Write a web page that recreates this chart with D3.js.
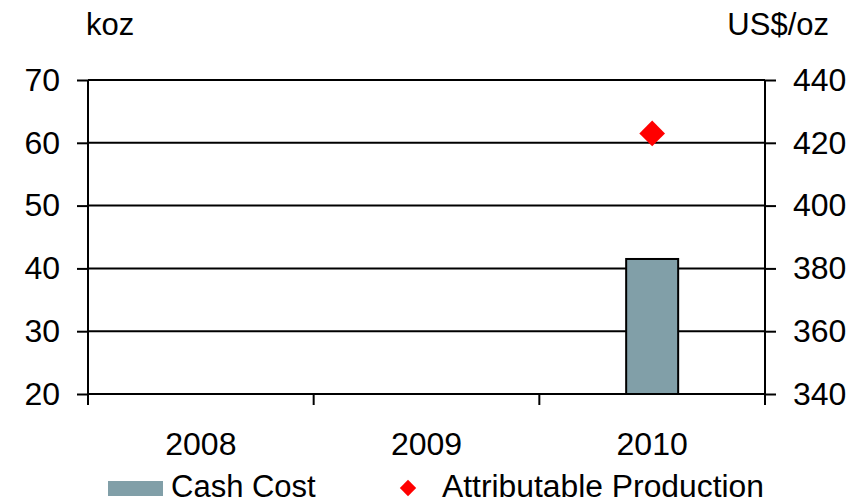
<!DOCTYPE html>
<meta charset="utf-8">
<title>Cash Cost and Production</title>
<style>
body { margin: 0; background: #fff; }
text { font-family: "Liberation Sans", Arial, sans-serif; fill: #000; }
</style>
<body>
<script src="https://d3js.org/d3.v7.min.js"></script>
<script>

var years = ["2008", "2009", "2010"];
var cashCost = [null, null, 383];      // US$/oz, right axis
var production = [null, null, 61.5];   // koz, left axis
var leftTicks = [20, 30, 40, 50, 60, 70];
var rightTicks = [340, 360, 380, 400, 420, 440];

var svg = d3.select("body").append("svg")
    .attr("width", 862)
    .attr("height", 504);

var pLeft = 88, pRight = 765, pTop = 80, pBottom = 394;

var x = d3.scaleBand().domain(years).range([pLeft, pRight]);
var yL = d3.scaleLinear().domain([20, 70]).range([pBottom, pTop]);
var yR = d3.scaleLinear().domain([340, 440]).range([pBottom, pTop]);

// gridlines
svg.append("g").selectAll("line")
  .data(leftTicks)
  .enter().append("line")
    .attr("x1", pLeft).attr("x2", pRight)
    .attr("y1", d => yL(d)).attr("y2", d => yL(d))
    .attr("stroke", "#000").attr("stroke-width", 2);

// bars
svg.append("g").selectAll("rect")
  .data(years.map((y, i) => ({ year: y, v: cashCost[i] })).filter(d => d.v != null))
  .enter().append("rect")
    .attr("x", d => x(d.year) + x.bandwidth() * 0.5 - 26)
    .attr("width", 52)
    .attr("y", d => yR(d.v))
    .attr("height", d => pBottom - yR(d.v))
    .attr("fill", "#819fa8")
    .attr("stroke", "#000").attr("stroke-width", 2);

// axes
var axL = svg.append("g").attr("transform", "translate(" + pLeft + ",0)")
    .call(d3.axisLeft(yL).tickValues(leftTicks).tickSize(11).tickPadding(17));
var axR = svg.append("g").attr("transform", "translate(" + pRight + ",0)")
    .call(d3.axisRight(yR).tickValues(rightTicks).tickSize(11).tickPadding(17));
var axX = svg.append("g").attr("transform", "translate(0," + pBottom + ")")
    .call(d3.axisBottom(x).tickSize(0).tickPadding(38));

[axL, axR, axX].forEach(function(g) {
  g.select(".domain").remove();
  g.selectAll("line").attr("stroke", "#000").attr("stroke-width", 2);
  g.selectAll("text").style("font-size", "32px").attr("fill", "#000")
    .style("font-family", "'Liberation Sans', Arial, sans-serif");
});

// axis lines
svg.append("line").attr("x1", pLeft).attr("x2", pLeft).attr("y1", pTop).attr("y2", pBottom + 11)
  .attr("stroke", "#000").attr("stroke-width", 2);
svg.append("line").attr("x1", pRight).attr("x2", pRight).attr("y1", pTop).attr("y2", pBottom + 11)
  .attr("stroke", "#000").attr("stroke-width", 2);
svg.append("g").selectAll("line")
  .data(years.slice(1))
  .enter().append("line")
    .attr("x1", d => x(d)).attr("x2", d => x(d))
    .attr("y1", pBottom).attr("y2", pBottom + 11)
    .attr("stroke", "#000").attr("stroke-width", 2);

// production markers
svg.append("g").selectAll("path")
  .data(years.map((y, i) => ({ year: y, v: production[i] })).filter(d => d.v != null))
  .enter().append("path")
    .attr("d", d3.symbol().type(d3.symbolDiamond2).size(420))
    .attr("transform", d => "translate(" + (x(d.year) + x.bandwidth() / 2) + "," + yL(d.v) + ")")
    .attr("fill", "#ff0000");

// unit labels
svg.append("text").attr("x", 86).attr("y", 35)
  .style("font-size", "31px").text("koz");
svg.append("text").attr("x", 829).attr("y", 35).attr("text-anchor", "end")
  .style("font-size", "31px").text("US$/oz");

// legend
var lg = svg.append("g");
lg.append("rect").attr("x", 108).attr("y", 481).attr("width", 55).attr("height", 15).attr("fill", "#819fa8");
lg.append("text").attr("x", 171).attr("y", 497).style("font-size", "31px").text("Cash Cost");
lg.append("path")
  .attr("d", d3.symbol().type(d3.symbolDiamond2).size(170))
  .attr("transform", "translate(408,488)")
  .attr("fill", "#ff0000");
lg.append("text").attr("x", 442).attr("y", 497).style("font-size", "31px")
  .attr("textLength", 322).attr("lengthAdjust", "spacingAndGlyphs")
  .text("Attributable Production");

</script>
</body>
</html>
